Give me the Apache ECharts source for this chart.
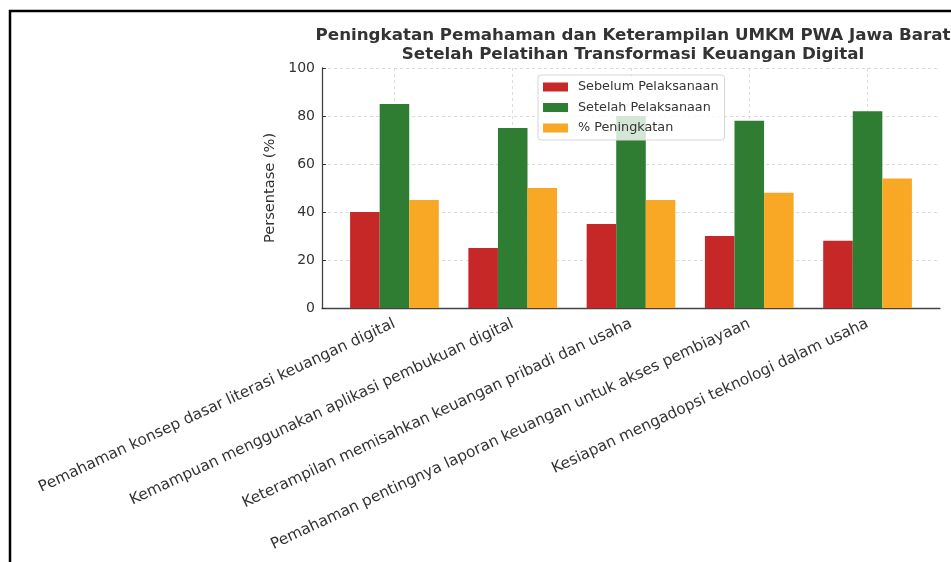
<!DOCTYPE html>
<html>
<head>
<meta charset="utf-8">
<script src="https://cdn.jsdelivr.net/npm/echarts@6/dist/echarts.min.js"></script>
<style>
  html, body { margin: 0; padding: 0; background: #fff; }
  #chart { width: 951px; height: 562px; }
</style>
</head>
<body>
<div id="chart"></div>
<script>
// data
var categories = [
    'Pemahaman konsep dasar literasi keuangan digital',
    'Kemampuan menggunakan aplikasi pembukuan digital',
    'Keterampilan memisahkan keuangan pribadi dan usaha',
    'Pemahaman pentingnya laporan keuangan untuk akses pembiayaan',
    'Kesiapan mengadopsi teknologi dalam usaha'
];
var sebelum = [40, 25, 35, 30, 28];
var setelah = [85, 75, 80, 78, 82];
var peningkatan = [45, 50, 45, 48, 54];
var yTicks = [0, 20, 40, 60, 80, 100];

var FONT = 'DejaVu Sans';
var positions = categories.map(function (c, i) { return i; });

// value x axis so the margins match the original plot
function toPoints(arr) {
    return arr.map(function (v, i) { return [i, v]; });
}

var chart = echarts.init(document.getElementById('chart'));

chart.setOption({
    animation: false,
    textStyle: { fontFamily: FONT },
    title: {
        text: 'Peningkatan Pemahaman dan Keterampilan UMKM PWA Jawa Barat\nSetelah Pelatihan Transformasi Keuangan Digital',
        left: 628,
        top: 21,
        textAlign: 'center',
        textStyle: {
            fontFamily: FONT, fontSize: 16.7, fontWeight: 'bold',
            color: '#333', lineHeight: 19
        }
    },
    legend: {
        orient: 'vertical',
        left: 538,
        top: 75,
        itemWidth: 25,
        itemHeight: 9,
        itemGap: 5.5,
        icon: 'rect',
        padding: [4.5, 6, 4.5, 5],
        backgroundColor: 'rgba(255,255,255,0.8)',
        borderColor: '#d6d6d6',
        borderWidth: 1,
        borderRadius: 3,
        textStyle: { fontFamily: FONT, fontSize: 12.8, color: '#333', padding: [0, 0, 0, 5], lineHeight: 15 },
        data: ['Sebelum Pelaksanaan', 'Setelah Pelaksanaan', '% Peningkatan']
    },
    grid: { left: 322, right: 11, top: 68, bottom: 254 },
    xAxis: {
        type: 'value',
        min: -0.6125,
        max: 4.6125,
        axisLine: { show: true, onZero: false, lineStyle: { color: '#444', width: 1.3 } },
        axisTick: { show: true, inside: true, length: 4, customValues: positions, lineStyle: { color: '#333' } },
        axisLabel: {
            customValues: positions,
            rotate: 25,
            margin: 15,
            fontFamily: FONT,
            fontSize: 15.3,
            color: '#333',
            formatter: function (v) { return categories[Math.round(v)]; }
        },
        splitLine: { show: true, lineStyle: { color: '#d4d4d4', type: [3, 3], width: 0.8 } }
    },
    yAxis: {
        type: 'value',
        min: yTicks[0],
        max: yTicks[yTicks.length - 1],
        interval: 20,
        name: 'Persentase (%)',
        nameLocation: 'middle',
        nameGap: 34,
        nameRotate: 90,
        nameTextStyle: { fontFamily: FONT, fontSize: 14.6, color: '#333' },
        axisLine: { show: true, onZero: false, lineStyle: { color: '#444', width: 1.3 } },
        axisTick: { show: true, inside: true, length: 4, lineStyle: { color: '#333' } },
        axisLabel: { fontFamily: FONT, fontSize: 14, color: '#333', margin: 7 },
        splitLine: { show: true, lineStyle: { color: '#d4d4d4', type: [3, 3], width: 0.8 } }
    },
    series: [
        {
            name: 'Sebelum Pelaksanaan', type: 'bar', data: toPoints(sebelum),
            barWidth: '25%', barGap: '0%', itemStyle: { color: '#c62828' }
        },
        {
            name: 'Setelah Pelaksanaan', type: 'bar', data: toPoints(setelah),
            barWidth: '25%', barGap: '0%', itemStyle: { color: '#2e7d32' }
        },
        {
            name: '% Peningkatan', type: 'bar', data: toPoints(peningkatan),
            barWidth: '25%', barGap: '0%', itemStyle: { color: '#f9a825' }
        }
    ],
    graphic: [{
        type: 'polyline',
        silent: true,
        z: 100,
        shape: { points: [[10, 562], [10, 11], [951, 11]] },
        style: { stroke: '#000', lineWidth: 2.5, fill: null }
    }]
});
</script>
</body>
</html>
